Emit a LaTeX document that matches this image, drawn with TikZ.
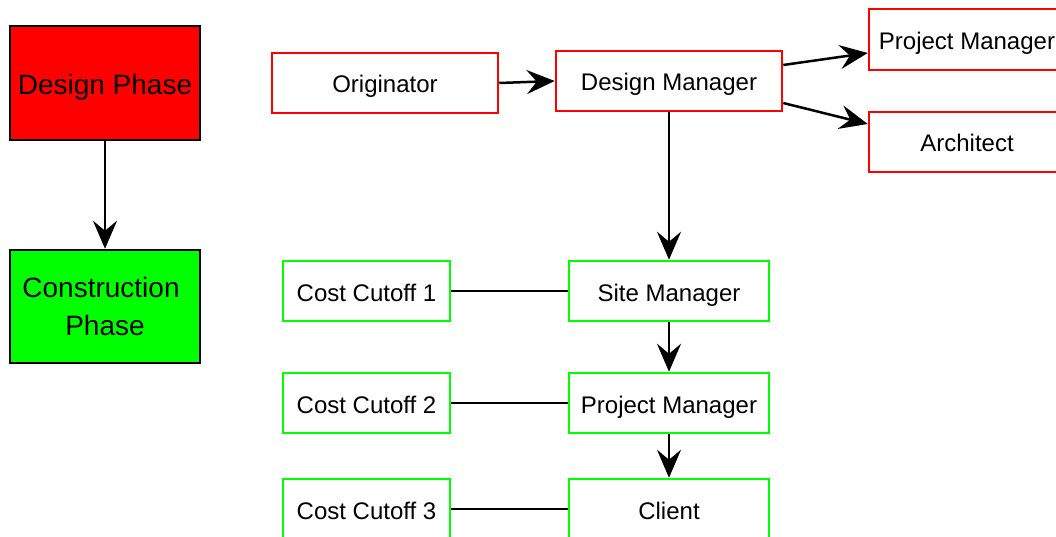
\documentclass[tikz,border=0pt]{standalone}
\usepackage{fontspec}
\setmainfont{Liberation Sans}
\usetikzlibrary{arrows.meta}
\definecolor{boxred}{HTML}{FF0000}
\definecolor{boxgreen}{HTML}{00FF00}
\tikzset{
  phasebox/.style={draw=black, line width=2.5pt, minimum width=190pt, minimum height=113pt,
    inner sep=0pt, align=center, font=\fontsize{28}{38}\selectfont},
  rolebox/.style={draw, line width=2.5pt, fill=white, minimum height=60pt, inner sep=0pt,
    text height=20pt, text depth=0pt, font=\fontsize{24}{28}\selectfont},
  redbox/.style={rolebox, draw=boxred},
  greenbox/.style={rolebox, draw=boxgreen},
  flow/.style={line width=2.5pt, -{Stealth[length=28pt, width=24pt, inset=10pt]}},
  link/.style={line width=2.5pt}
}
\begin{document}
\begin{tikzpicture}[x=1pt, y=-1pt]
  \useasboundingbox (0,0) rectangle (1056,537);
  \clip (0,0) rectangle (1056,537);

  % legend of phases
  \node[phasebox, fill=boxred, minimum height=114pt, text height=23pt, text depth=0pt]
    (dp) at (105,83) {Design Phase};
  \node[phasebox, fill=boxgreen] (cp) at (105,306.5) {Construction\kern8pt\\Phase};
  \draw[flow] (dp.south) -- (cp.north);

  % design phase roles
  \node[redbox, minimum width=226pt] (orig) at (385,83) {Originator};
  \node[redbox, minimum width=226pt] (dm) at (669,81) {Design Manager};
  \node[redbox, minimum width=196pt, minimum height=61pt] (pmd) at (967,39.5) {Project Manager};
  \node[redbox, minimum width=196pt] (arch) at (967,142) {Architect};

  \draw[flow] (orig.east) -- (dm.west);
  \draw[flow] ([yshift=16pt]dm.east) -- ([yshift=-13.5pt]pmd.west);
  \draw[flow] ([yshift=-22pt]dm.east) -- ([yshift=18pt]arch.west);

  % construction phase roles
  \node[greenbox, minimum width=200pt] (sm) at (669,291) {Site Manager};
  \node[greenbox, minimum width=200pt] (pmc) at (669,403) {Project Manager};
  \node[greenbox, minimum width=200pt] (cl) at (669,509) {Client};
  \node[greenbox, minimum width=167pt] (cc1) at (366.5,291) {Cost Cutoff 1};
  \node[greenbox, minimum width=167pt] (cc2) at (366.5,403) {Cost Cutoff 2};
  \node[greenbox, minimum width=167pt] (cc3) at (366.5,509) {Cost Cutoff 3};

  \draw[flow] (dm.south) -- (sm.north);
  \draw[flow] (sm.south) -- (pmc.north);
  \draw[flow] (pmc.south) -- (cl.north);

  \draw[link] (cc1.east) -- (sm.west);
  \draw[link] (cc2.east) -- (pmc.west);
  \draw[link] (cc3.east) -- (cl.west);
\end{tikzpicture}
\end{document}
